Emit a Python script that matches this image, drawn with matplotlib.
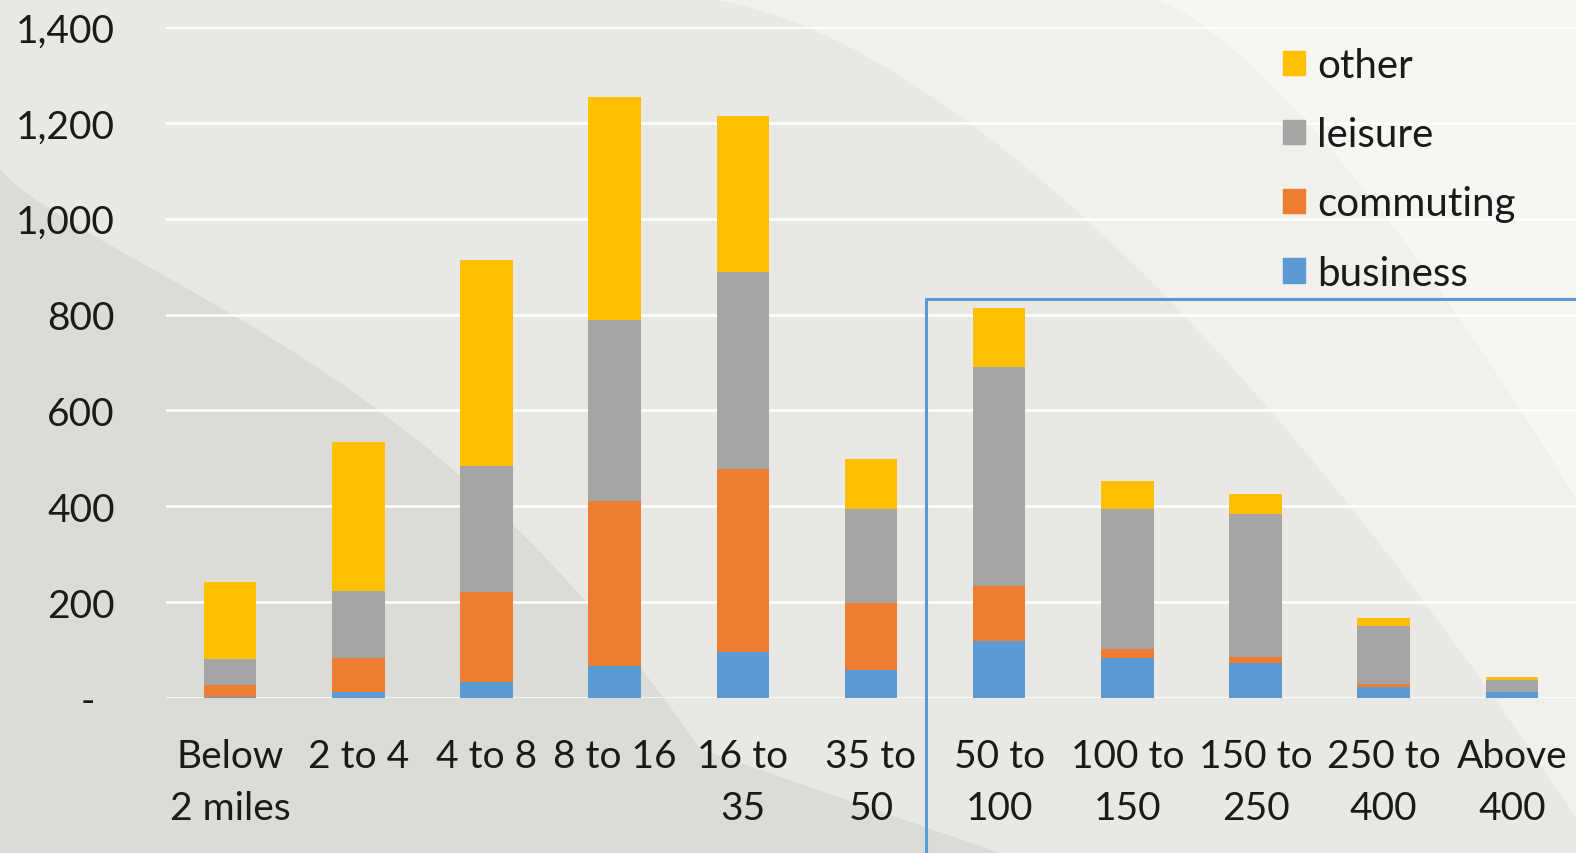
import matplotlib.pyplot as plt
import numpy as np
from matplotlib.patches import Polygon, Rectangle, Patch

plt.rcParams['font.family'] = ['Lato', 'DejaVu Sans']

# ====== Data ======
bands = ['Below\n2 miles', '2 to 4', '4 to 8', '8 to 16', '16 to\n35', '35 to\n50',
         '50 to\n100', '100 to\n150', '150 to\n250', '250 to\n400', 'Above\n400']
business = [2, 13, 34, 67, 96, 59, 119, 84, 73, 23, 12]
commuting = [25, 71, 188, 344, 382, 140, 114, 19, 13, 6, 1]
leisure = [55, 140, 262, 377, 411, 195, 457, 291, 298, 122, 25]
other = [161, 310, 430, 465, 325, 105, 123, 59, 41, 16, 5]

yticks = [0, 200, 400, 600, 800, 1000, 1200, 1400]
ytick_labels = ['-', '200', '400', '600', '800', '1,000', '1,200', '1,400']

colors = {'business': '#5b9bd5', 'commuting': '#ed7d31',
          'leisure': '#a5a5a5', 'other': '#ffc000'}

W, H = 1576, 854
fig = plt.figure(figsize=(W / 100, H / 100), dpi=100)
fig.patch.set_facecolor('#e9e8e4')

# ====== Background swooshes ======
bg = fig.add_axes([0, 0, 1, 1], zorder=-10)
bg.set_xlim(0, W)
bg.set_ylim(H, 0)
bg.axis('off')
t = np.linspace(0, 1, 60)
# darker bottom-left region
bg.add_patch(Polygon(np.column_stack([np.r_[0, 0, 700 * t, 1000, 0],
                                      np.r_[H, 170, 170 + 330 * t ** 0.8 + 250 * t ** 3, H, H]]),
                     closed=True, color='#dcdcd7', lw=0))
# light band from top middle toward bottom right
ux = 700 + 900 * t
uy = 0 + 854 * t ** 1.6
lx = 1150 + 426 * t
ly = 0 + 500 * t ** 1.4
bg.add_patch(Polygon(np.column_stack([np.r_[ux, lx[::-1]], np.r_[uy, ly[::-1]]]),
                     closed=True, color='#f1f0ed', lw=0))
bg.add_patch(Polygon(np.column_stack([np.r_[1150 + 426 * t, W], np.r_[500 * t ** 1.4, 0]]),
                     closed=True, color='#f7f6f3', lw=0))

# ====== Chart ======
ax = fig.add_axes([166 / W, 1 - 699 / H, 1 - 166 / W, (699 - 28) / H])
ax.set_facecolor('none')
x = np.arange(len(bands))
bw = 0.41
bottom = np.zeros(len(bands))
for name, vals in [('business', business), ('commuting', commuting),
                   ('leisure', leisure), ('other', other)]:
    ax.bar(x, vals, bw, bottom=bottom, color=colors[name], zorder=3, lw=0)
    bottom += np.array(vals)

ax.set_xlim(-0.5, len(bands) - 0.5)
ax.set_ylim(0, 1400)
ax.set_yticks(yticks)
ax.set_yticklabels(ytick_labels)
ax.yaxis.grid(True, color='white', lw=1.8, zorder=0)
ax.set_axisbelow(True)
for s in ax.spines.values():
    s.set_visible(False)
ax.tick_params(axis='y', length=0, pad=37, labelsize=28, labelcolor='#1a1a1a')
ax.set_xticks(x)
ax.set_xticklabels(bands, linespacing=1.55)
ax.tick_params(axis='x', length=0, pad=29, labelsize=28, labelcolor='#1a1a1a')
ax.get_yticklabels()[0].set_x(-0.014)

# highlight box
fig.add_artist(Rectangle((926 / W, -0.02), 1.0, 1 - 300 / H + 0.02,
                         transform=fig.transFigure, fill=False,
                         edgecolor='#5b9bd5', lw=2.2, zorder=5))

handles = [Patch(color=colors[k]) for k in ['other', 'leisure', 'commuting', 'business']]
fig.legend(handles, ['other', 'leisure', 'commuting', 'business'],
           loc='upper left', bbox_to_anchor=(1283 / W, 1 - 48 / H), frameon=False,
           borderpad=0, borderaxespad=0,
           fontsize=29, handlelength=0.55, handleheight=0.55, handletextpad=0.3,
           labelspacing=0.8, labelcolor='#1a1a1a')

fig.savefig('out.png', dpi=100, facecolor=fig.get_facecolor())
